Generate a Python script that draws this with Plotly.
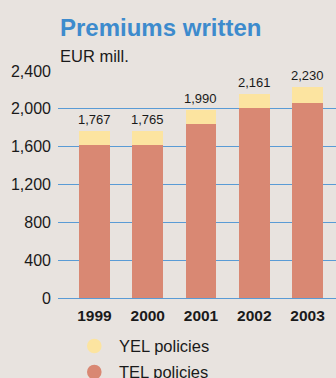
import plotly.graph_objects as go

# Premiums written, EUR mill.
years = ["1999", "2000", "2001", "2002", "2003"]
totals = [1767, 1765, 1990, 2161, 2230]
tel_policies = [1615, 1613, 1840, 2008, 2062]
yel_policies = [t - s for t, s in zip(totals, tel_policies)]
y_ticks = [0, 400, 800, 1200, 1600, 2000, 2400]
y_tick_text = ["0", "400", "800", "1,200", "1,600", "2,000", "2,400"]

BG = "#e8e3df"
TEL_COLOR = "#d98873"
YEL_COLOR = "#fce4a0"
GRID = "#5a9bd5"
TITLE_BLUE = "#3d8bcd"
INK = "#1a1a1a"
FONT = "Liberation Sans, Arial, Helvetica, sans-serif"

# plot area geometry in pixels
W, H = 336, 378
LEFT, TOP, BOTTOM = 58, 71, 80
PLOT_W = W - LEFT
PLOT_H = H - TOP - BOTTOM


def px_to_paper_y(y_px):
    return (H - BOTTOM - y_px) / PLOT_H


def px_to_paper_x(x_px):
    return (x_px - LEFT) / PLOT_W


x_idx = list(range(len(years)))

fig = go.Figure()
fig.add_trace(go.Bar(x=x_idx, y=tel_policies, name="TEL policies",
                     marker=dict(color=TEL_COLOR, line=dict(width=0)),
                     width=0.58, hoverinfo="skip"))
fig.add_trace(go.Bar(x=x_idx, y=yel_policies, name="YEL policies",
                     marker=dict(color=YEL_COLOR, line=dict(width=0)),
                     width=0.58, hoverinfo="skip"))

# total labels above each stacked bar
for i, t in enumerate(totals):
    fig.add_annotation(x=i, y=t, text=f"{t:,}", showarrow=False,
                       yanchor="bottom", yshift=2,
                       font=dict(family=FONT, size=13, color=INK))

# title and unit line
fig.add_annotation(xref="paper", yref="paper", x=0, xanchor="left",
                   y=px_to_paper_y(12), yanchor="top", showarrow=False,
                   text="<b>Premiums written</b>",
                   font=dict(family=FONT, size=24, color=TITLE_BLUE))
fig.add_annotation(xref="paper", yref="paper", x=0, xanchor="left",
                   y=px_to_paper_y(45), yanchor="top", showarrow=False,
                   text="EUR mill.",
                   font=dict(family=FONT, size=16.5, color=INK))

# legend with round markers
legend_items = [("YEL policies", YEL_COLOR, 346), ("TEL policies", TEL_COLOR, 372)]
R = 7.3
for label, color, yc in legend_items:
    fig.add_shape(type="circle", xref="paper", yref="paper",
                  x0=px_to_paper_x(94.3 - R), x1=px_to_paper_x(94.3 + R),
                  y0=px_to_paper_y(yc + R), y1=px_to_paper_y(yc - R),
                  fillcolor=color, line=dict(width=0))
    fig.add_annotation(xref="paper", yref="paper", x=px_to_paper_x(117),
                       y=px_to_paper_y(yc), xanchor="left", yanchor="middle",
                       showarrow=False, text=label,
                       font=dict(family=FONT, size=16.5, color=INK))

fig.update_layout(
    barmode="stack",
    width=W, height=H,
    margin=dict(l=LEFT, r=0, t=TOP, b=BOTTOM),
    paper_bgcolor=BG, plot_bgcolor=BG,
    showlegend=False,
    font=dict(family=FONT, color=INK),
    xaxis=dict(range=[-0.685, 4.535], tickvals=x_idx, ticktext=years,
               showgrid=False, zeroline=False, showline=False, ticks="",
               tickfont=dict(family=FONT, size=15.5, weight="bold", color=INK),
               ticklabelstandoff=6, fixedrange=True),
    yaxis=dict(range=[0, 2400], tickvals=y_ticks, ticktext=y_tick_text,
               showgrid=True, gridcolor=GRID, gridwidth=1.3,
               zeroline=True, zerolinecolor=GRID, zerolinewidth=1.3,
               showline=False, ticks="",
               tickfont=dict(family=FONT, size=16, color=INK),
               ticklabelstandoff=6, fixedrange=True),
)

fig.write_html("out.html")
